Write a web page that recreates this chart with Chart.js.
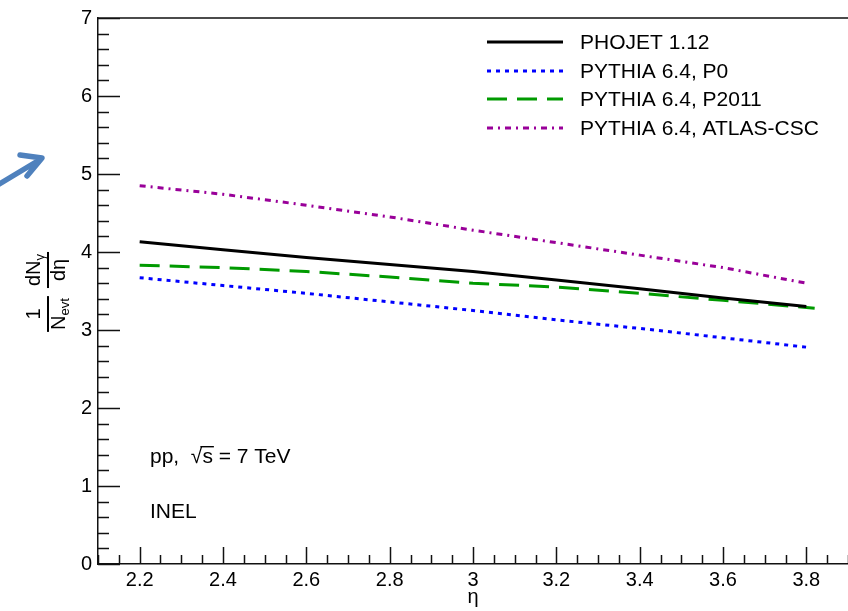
<!DOCTYPE html>
<html>
<head>
<meta charset="utf-8">
<script src="https://cdn.jsdelivr.net/npm/chart.js@4.4.1/dist/chart.umd.min.js"></script>
<style>
  html, body { margin: 0; padding: 0; background: #fff; }
  canvas { display: block; }
</style>
</head>
<body>
<canvas id="chart" width="848" height="611"></canvas>
<script>
// values (dN/deta per event vs eta)
const ETA = [2.2, 2.4, 2.6, 2.8, 3.0, 3.2, 3.4, 3.6, 3.8];
const ETA_P2011 = [2.2, 2.4, 2.6, 2.8, 3.0, 3.2, 3.4, 3.6, 3.82];
const PHOJET = [4.13, 4.03, 3.93, 3.84, 3.75, 3.64, 3.53, 3.41, 3.30];
const PYTHIA_P0 = [3.67, 3.57, 3.47, 3.36, 3.25, 3.13, 3.02, 2.90, 2.78];
const PYTHIA_P2011 = [3.83, 3.80, 3.75, 3.68, 3.60, 3.55, 3.47, 3.38, 3.28];
const PYTHIA_ATLAS = [4.85, 4.74, 4.60, 4.45, 4.28, 4.12, 3.96, 3.80, 3.60];
const SERIES_LABELS = ['PHOJET 1.12', 'PYTHIA 6.4, P0', 'PYTHIA 6.4, P2011', 'PYTHIA 6.4, ATLAS-CSC'];
const X_TICKS = [2.2, 2.4, 2.6, 2.8, 3, 3.2, 3.4, 3.6, 3.8];
const Y_TICKS = [0, 1, 2, 3, 4, 5, 6, 7];

const FONT = '"Liberation Sans", Arial, Helvetica, sans-serif';

function toPoints(xs, ys) {
    return xs.map((x, i) => ({ x: x, y: ys[i] }));
}

// ROOT style frame: ticks drawn inside the frame, top border line
const frameTicks = {
    id: 'frameTicks',
    afterDraw(chart) {
        const { ctx, chartArea: a, scales: { x, y } } = chart;
        ctx.save();
        ctx.strokeStyle = '#111';
        ctx.lineWidth = 1.5;
        ctx.beginPath();
        ctx.moveTo(a.left, a.top);
        ctx.lineTo(a.right, a.top);
        // y ticks: major every 1, minor every 0.2
        for (let i = 0; i <= 35; i++) {
            const v = i * 0.2;
            const py = Math.round(y.getPixelForValue(v)) + 0.5;
            const len = i % 5 === 0 ? 22 : 11;
            ctx.moveTo(a.left, py);
            ctx.lineTo(a.left + len, py);
        }
        // x ticks: major every 0.2, minor every 0.05
        for (let i = 0; i <= 36; i++) {
            const v = x.min + i * 0.05;
            const px = Math.round(x.getPixelForValue(v)) + 0.5;
            const len = (i - 2) % 4 === 0 ? 17 : 9;
            ctx.moveTo(px, a.bottom);
            ctx.lineTo(px, a.bottom - len);
        }
        ctx.stroke();
        ctx.restore();
    }
};

// legend in the top right corner, built from the datasets
const rootLegend = {
    id: 'rootLegend',
    afterDraw(chart) {
        const ctx = chart.ctx;
        const rows = [42, 71, 99, 128];
        ctx.save();
        chart.data.datasets.forEach((ds, i) => {
            ctx.strokeStyle = ds.borderColor;
            ctx.lineWidth = ds.borderWidth;
            ctx.setLineDash(ds.borderDash || []);
            ctx.beginPath();
            ctx.moveTo(487, rows[i]);
            ctx.lineTo(563, rows[i]);
            ctx.stroke();
            ctx.setLineDash([]);
            ctx.fillStyle = '#000';
            ctx.font = '21px ' + FONT;
            ctx.textBaseline = 'middle';
            ctx.fillText(ds.label, 580, rows[i] + 1);
        });
        ctx.restore();
    }
};

// axis titles, text labels and the blue arrow
const annotations = {
    id: 'annotations',
    afterDraw(chart) {
        const ctx = chart.ctx;
        const a = chart.chartArea;
        ctx.save();
        ctx.fillStyle = '#000';
        ctx.textBaseline = 'alphabetic';

        // x title
        ctx.font = '20px ' + FONT;
        ctx.textAlign = 'center';
        ctx.fillText('\u03b7', (a.left + a.right) / 2, 603);

        // y title: 1/N_evt dN_gamma/deta, rotated
        ctx.translate(48, 292);
        ctx.rotate(-Math.PI / 2);
        ctx.textAlign = 'left';
        const big = '20px ' + FONT;
        const small = '13px ' + FONT;
        function width(parts) {
            let w = 0;
            parts.forEach(p => { ctx.font = p.sub ? small : big; w += ctx.measureText(p.t).width; });
            return w;
        }
        function frac(cx, top, bottom) {
            const barW = Math.max(width(top), width(bottom)) + 4;
            ctx.fillRect(cx - barW / 2, -1, barW, 2);
            [[top, -8], [bottom, 17]].forEach(([parts, base]) => {
                let px = cx - width(parts) / 2;
                parts.forEach(p => {
                    ctx.font = p.sub ? small : big;
                    ctx.fillText(p.t, px, base + (p.sub ? 4 : 0));
                    px += ctx.measureText(p.t).width;
                });
            });
        }
        frac(-22, [{ t: '1' }], [{ t: 'N' }, { t: 'evt', sub: true }]);
        frac(22, [{ t: 'dN' }, { t: '\u03b3', sub: true }], [{ t: 'd\u03b7' }]);
        ctx.setTransform(1, 0, 0, 1, 0, 0);

        // text inside the frame
        ctx.font = '21px ' + FONT;
        ctx.textAlign = 'left';
        const pre = 'pp,  \u221a';
        ctx.fillText(pre + 's = 7 TeV', 150, 463);
        const x0 = 150 + ctx.measureText(pre).width;
        const sw = ctx.measureText('s').width;
        ctx.fillRect(x0 - 2, 446, sw + 3, 1.4);
        ctx.fillText('INEL', 150, 518);

        // blue arrow on the left edge
        ctx.strokeStyle = '#4f81bd';
        ctx.lineWidth = 5.5;
        ctx.lineCap = 'round';
        ctx.lineJoin = 'round';
        ctx.beginPath();
        ctx.moveTo(-4, 186);
        ctx.lineTo(41, 159);
        ctx.moveTo(20, 155);
        ctx.lineTo(42, 158);
        ctx.lineTo(27, 176);
        ctx.stroke();
        ctx.restore();
    }
};

const lineStyle = { pointRadius: 0, borderWidth: 3, tension: 0, fill: false, borderCapStyle: 'butt' };

new Chart(document.getElementById('chart').getContext('2d'), {
    type: 'line',
    data: {
        datasets: [
            Object.assign({ label: SERIES_LABELS[0], data: toPoints(ETA, PHOJET), borderColor: '#000000' }, lineStyle),
            Object.assign({ label: SERIES_LABELS[1], data: toPoints(ETA, PYTHIA_P0), borderColor: '#0000ff', borderDash: [4, 5] }, lineStyle),
            Object.assign({ label: SERIES_LABELS[2], data: toPoints(ETA_P2011, PYTHIA_P2011), borderColor: '#009a00', borderDash: [20, 10] }, lineStyle),
            Object.assign({ label: SERIES_LABELS[3], data: toPoints(ETA, PYTHIA_ATLAS), borderColor: '#990099', borderDash: [6, 5, 2, 5] }, lineStyle)
        ]
    },
    options: {
        responsive: false,
        devicePixelRatio: 1,
        animation: false,
        layout: { padding: { top: 17, right: 0, left: 0, bottom: 0 } },
        plugins: {
            legend: { display: false },
            tooltip: { enabled: false }
        },
        scales: {
            x: {
                type: 'linear',
                min: 2.1,
                max: 3.9,
                afterBuildTicks: scale => { scale.ticks = X_TICKS.map(v => ({ value: v })); },
                afterFit: scale => { scale.height = 47; },
                grid: { display: false, drawTicks: false },
                border: { display: true, color: '#111', width: 1.5 },
                ticks: {
                    padding: 4,
                    color: '#000',
                    font: { family: FONT, size: 20 },
                    maxRotation: 0,
                    callback: v => String(v)
                }
            },
            y: {
                min: 0,
                max: 7,
                afterBuildTicks: scale => { scale.ticks = Y_TICKS.map(v => ({ value: v })); },
                afterFit: scale => { scale.width = 98; },
                grid: { display: false, drawTicks: false },
                border: { display: true, color: '#111', width: 1.5 },
                ticks: {
                    padding: 6,
                    color: '#000',
                    font: { family: FONT, size: 20 },
                    callback: v => String(v)
                }
            }
        }
    },
    plugins: [frameTicks, rootLegend, annotations]
});
</script>
</body>
</html>
